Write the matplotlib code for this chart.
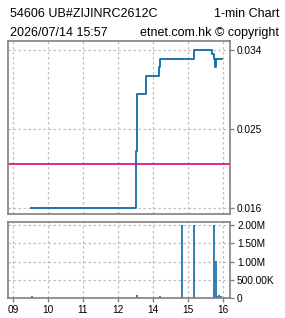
import matplotlib
matplotlib.use("Agg")
import matplotlib.pyplot as plt

plt.rcParams['font.family'] = ['Liberation Sans', 'DejaVu Sans']

# x axis is in "session hours": 0=09, 1=10, 2=11, 3=12/13, 4=14, 5=15, 6=16
hour_pos = [0, 1, 2, 3, 4, 5, 6]
hour_labels = ['09', '10', '11', '12', '14', '15', '16']

# price (step line)
price_t = [0.505, 3.514, 3.543, 3.81, 4.18, 4.21, 5.17, 5.70, 5.74, 5.77, 5.80, 5.97]
price_v = [0.016, 0.0225, 0.029, 0.031, 0.032, 0.033, 0.034, 0.0335, 0.033, 0.032, 0.033, 0.033]
ref_price = 0.021
price_ticks = [0.016, 0.025, 0.034]

# volume
vol_t = [0.545, 3.553, 3.64, 3.84, 4.21, 4.84, 5.18, 5.74, 5.80, 5.83, 5.89, 5.94]
vol_v = [50000, 75000, 40000, 40000, 45000, 2000000, 2000000, 2000000, 1020000, 60000, 80000, 55000]
vol_ticks = [0, 500000, 1000000, 1500000, 2000000]
vol_labels = ['0', '500.00K', '1.00M', '1.50M', '2.00M']

W, H = 285, 318
fig = plt.figure(figsize=(W / 100, H / 100), dpi=100)

blue = '#0f6aa6'
frame = '#808080'
grid = '#c0c0c0'


def px_axes(x0, y0, x1, y1):
    return fig.add_axes([x0 / W, 1 - y1 / H, (x1 - x0) / W, (y1 - y0) / H])


def style(ax):
    for s in ax.spines.values():
        s.set_color(frame)
        s.set_linewidth(1.2)
    ax.yaxis.tick_right()
    ax.tick_params(axis='y', direction='out', length=3, width=1, color=frame,
                   labelsize=7.3, pad=2)
    ax.tick_params(axis='x', direction='out', length=3, width=1, color=frame,
                   labelsize=7.3, pad=2)
    ax.grid(True, color=grid, linestyle=(0, (2, 2)), linewidth=0.9)
    ax.set_xlim(-0.14, 6.2)
    ax.set_xticks(hour_pos)


ax1 = px_axes(8, 41, 230, 214)
style(ax1)
ax1.step(price_t, price_v, where='post', color=blue, lw=1.3)
ax1.axhline(ref_price, color='#e6007e', lw=1.2)
ax1.set_ylim(0.01535, 0.035)
ax1.set_yticks(price_ticks)
ax1.set_yticklabels(['%.3f' % v for v in price_ticks])
ax1.set_xticklabels([])
ax1.tick_params(axis='x', length=0)

ax2 = px_axes(8, 222, 230, 298)
style(ax2)
ax2.vlines(vol_t, 0, vol_v, color=blue, lw=1.2)
ax2.set_ylim(0, 2090000)
ax2.set_yticks(vol_ticks)
ax2.set_yticklabels(vol_labels)
ax2.set_xticklabels(hour_labels)

fig.text(10 / W, 1 - 17 / H, '54606 UB#ZIJINRC2612C', fontsize=9, va='baseline', ha='left')
fig.text(279 / W, 1 - 17 / H, '1-min Chart', fontsize=9, va='baseline', ha='right')
fig.text(10 / W, 1 - 36 / H, '2026/07/14 15:57', fontsize=9, va='baseline', ha='left')
fig.text(279 / W, 1 - 36 / H, 'etnet.com.hk \u00a9 copyright', fontsize=9, va='baseline', ha='right')

fig.savefig('out.png', dpi=100)
